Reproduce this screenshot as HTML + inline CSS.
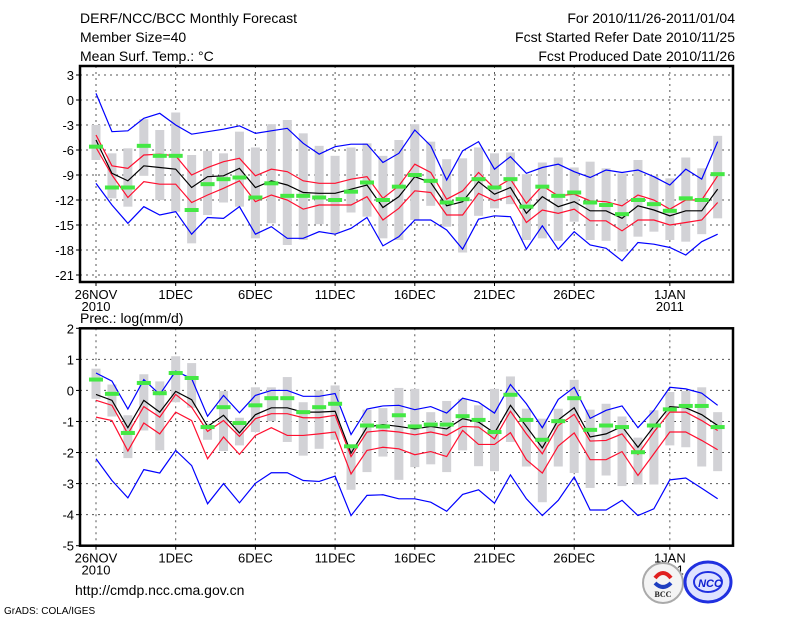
<!DOCTYPE html>
<html><head><meta charset="utf-8"><style>
body{margin:0;background:#fff;}
svg{display:block;font-family:"Liberation Sans",sans-serif;}
</style></head><body>
<svg id="chart" width="800" height="618" viewBox="0 0 800 618" xmlns="http://www.w3.org/2000/svg">
<rect width="800" height="618" fill="#fff"/>
<g font-size="14" fill="#000">
<text x="80" y="23">DERF/NCC/BCC Monthly Forecast</text>
<text x="80" y="42">Member Size=40</text>
<text x="80" y="61">Mean Surf. Temp.: °C</text>
<text x="735" y="23" text-anchor="end">For 2010/11/26-2011/01/04</text>
<text x="735" y="42" text-anchor="end">Fcst Started Refer Date 2010/11/25</text>
<text x="735" y="61" text-anchor="end">Fcst Produced Date 2010/11/26</text>
<text x="80" y="323">Prec.: log(mm/d)</text>
<text x="75" y="595">http://cmdp.ncc.cma.gov.cn</text>
<text x="4" y="614" font-size="10">GrADS: COLA/IGES</text>
</g>
<g id="top"></g>
<g id="bot"></g>
<g>
<circle cx="663" cy="583" r="20" fill="#f4f4f4" stroke="#aaa" stroke-width="2"/>
<path d="M655 578 q8 -10 16 0" stroke="#e02020" stroke-width="4" fill="none"/>
<path d="M655 583 q8 8 16 0" stroke="#2040c0" stroke-width="4" fill="none"/>
<text x="663" y="597" font-size="8" text-anchor="middle" font-family="Liberation Serif,serif" font-weight="bold" fill="#222">BCC</text>
</g>
<g>
<ellipse cx="708" cy="582" rx="23" ry="20" fill="#dfe3ff" stroke="#2030e0" stroke-width="3"/>
<ellipse cx="708" cy="582" rx="14" ry="10" fill="none" stroke="#2030e0" stroke-width="2"/>
<text x="710" y="587" font-size="11" font-weight="bold" font-style="italic" text-anchor="middle" fill="#1020d0">NCC</text>
</g>
</svg>
<script>
// ---------- Temperature data ----------
const tBlueHi=[0.8,-3.8,-3.7,-2.2,-1.6,-3,-4.1,-3.8,-3.5,-3.1,-4,-3.7,-3.4,-5.2,-6.5,-5.6,-5.3,-5.3,-7.5,-6.4,-3.6,-5.5,-9.6,-6.1,-5,-8.3,-6.8,-8.8,-8.1,-7.7,-8.6,-9.3,-8.4,-8.7,-8.4,-9.2,-10.2,-8.3,-9.5,-5];
const tBlueLo=[-10,-12.6,-14.8,-12.8,-13.8,-13.4,-16.1,-14.1,-14.2,-12.8,-16.1,-15.2,-16.6,-16.6,-15.8,-16.1,-15.4,-14.1,-17.5,-16.4,-14.4,-14.4,-15.6,-17.9,-14.3,-13.9,-14,-17.9,-15.1,-17.9,-15.8,-17.4,-17.8,-19.3,-17.1,-17.3,-17.7,-18.6,-17,-16.1];
const tRedHi=[-4.2,-7.9,-8.2,-6.6,-6.5,-6.7,-9,-8.1,-7.4,-7,-9.1,-8.3,-8.6,-9.7,-10,-10,-9.5,-9.2,-11.8,-10.3,-7.7,-8.7,-11.9,-10.9,-8.7,-10.6,-9.5,-12.4,-10.3,-11.5,-11.3,-12.1,-12.2,-12.7,-11.4,-12,-13.1,-12,-12,-9.1];
const tRedLo=[-5.7,-9,-11.7,-9.8,-10.1,-10.1,-12.3,-11.4,-10.6,-9.7,-12.2,-11.4,-12,-13.1,-12.6,-12.6,-12.6,-11.6,-14.4,-13,-10.9,-11.1,-13.8,-13.8,-11.2,-12.1,-11.5,-14.7,-13.2,-13.6,-13.1,-14.5,-14.5,-15.7,-14.4,-14.4,-15,-14.7,-14.4,-12.3];
const tMean=[-4.8,-8.8,-9.7,-7.9,-8.1,-8.3,-10.5,-9.2,-9.1,-8.2,-10.5,-9.7,-10.2,-11.1,-11.2,-11.2,-10.7,-10.2,-12.9,-11.6,-9.2,-9.9,-12.7,-12.2,-9.8,-11.3,-10.5,-13.6,-11.6,-12.8,-12.2,-13.3,-13.3,-14.2,-12.7,-13.2,-13.9,-13.3,-13.3,-10.7];
const tObs=[-5.6,-10.5,-10.5,-5.5,-6.7,-6.7,-13.2,-10.1,-9.5,-9.3,-11.7,-10,-11.5,-11.5,-11.7,-12,-11,-9.9,-12,-10.4,-9,-9.7,-12.3,-11.9,-9.5,-10.5,-9.5,-12.8,-10.4,-11.5,-11.1,-12.3,-12.6,-13.7,-12,-12.5,-13.3,-11.8,-12,-8.9];
const tMax=[-3,-6.4,-5.8,-2.3,-3.6,-1.5,-6.6,-6.1,-6.4,-3.8,-5.7,-2.9,-2.4,-4,-5.5,-6.7,-5.7,-5.2,-6.7,-4.8,-2.9,-5,-7.1,-7,-5.7,-6.4,-6.3,-8.9,-7.5,-6.9,-8.1,-7.4,-8.2,-8.8,-7.2,-9.1,-9.4,-6.9,-8.2,-4.3];
const tMin=[-7.2,-11.8,-12.8,-9.1,-12,-13.4,-17.2,-13.8,-12.3,-12.8,-16.6,-14.8,-17.4,-16.8,-14.9,-16,-13.5,-14,-16.6,-16.8,-14.4,-12.7,-15.2,-18.3,-13.9,-13,-12.5,-16.8,-16.6,-16.9,-14.6,-16.8,-16.9,-18.2,-16.4,-15.8,-16.8,-17,-16.1,-14.2];
const tTicks=[3,0,-3,-6,-9,-12,-15,-18,-21];
// ---------- Precipitation data ----------
const pBlueHi=[0.56,0.3,-0.6,0.35,-0.13,0.62,0.38,-0.83,-0.16,-0.72,-0.16,0,0,-0.19,-0.19,-0.1,-1.42,-0.6,-0.5,-0.48,-0.62,-0.52,-0.73,-0.25,-0.38,-0.73,0.19,-0.43,-1.2,-0.29,0.1,-0.9,-0.64,-0.5,-1.2,-0.64,0.1,0.05,-0.09,-0.48];
const pBlueLo=[-2.2,-2.9,-3.46,-2.55,-2.66,-1.93,-2.42,-3.65,-3,-3.62,-2.99,-2.65,-2.65,-2.9,-2.93,-2.76,-4.03,-3.38,-3.36,-3.49,-3.49,-3.6,-3.89,-3.35,-3.2,-3.63,-2.72,-3.49,-4.03,-3.54,-2.79,-3.85,-3.85,-3.54,-4.03,-3.81,-2.88,-2.82,-3.15,-3.49];
const pRedHi=[-0.32,-0.48,-1.4,-0.52,-0.86,-0.13,-0.54,-1.32,-0.97,-1.48,-0.91,-0.75,-0.75,-0.88,-0.88,-0.8,-2.13,-1.34,-1.29,-1.34,-1.43,-1.34,-1.45,-1.16,-1.18,-1.56,-0.67,-1.4,-2.04,-1.13,-0.77,-1.63,-1.61,-1.4,-2.06,-1.34,-0.7,-0.7,-0.97,-1.29];
const pRedLo=[-0.86,-0.97,-1.95,-1.05,-1.4,-0.7,-0.97,-2.2,-1.5,-2.06,-1.45,-1.2,-1.45,-1.45,-1.4,-1.34,-2.69,-1.93,-1.83,-1.88,-2.07,-1.97,-2.13,-1.29,-1.74,-1.74,-1.36,-2.23,-2.66,-1.79,-1.37,-2.23,-2.23,-1.97,-2.74,-2.04,-1.34,-1.34,-1.61,-1.91];
const pMean=[-0.13,-0.32,-1.2,-0.32,-0.7,-0.03,-0.3,-1.16,-0.8,-1.37,-0.78,-0.56,-0.56,-0.7,-0.7,-0.67,-2.02,-1.18,-1.1,-1.16,-1.24,-1.16,-1.24,-0.91,-1.02,-1.37,-0.48,-1.16,-1.85,-0.95,-0.56,-1.5,-1.4,-1.16,-1.83,-1.16,-0.52,-0.56,-0.78,-1.13];
const pObs=[0.35,-0.11,-1.37,0.24,-0.09,0.56,0.4,-1.18,-0.54,-1.05,-0.48,-0.25,-0.25,-0.7,-0.54,-0.43,-1.8,-1.13,-1.16,-0.8,-1.16,-1.1,-1.1,-0.83,-0.95,-1.34,-0.14,-0.95,-1.59,-0.99,-0.25,-1.27,-1.13,-1.18,-1.99,-1.13,-0.61,-0.5,-0.5,-1.18];
const pMax=[0.7,0.19,-0.8,0.52,0.29,1.1,0.88,-1.07,-0.02,-0.88,0.1,0.1,0.43,-0.38,0,0.16,-1.74,-0.62,-0.57,0.08,0.05,-0.7,-0.34,-0.27,-0.48,0.05,0.45,-0.59,-0.91,-0.59,0.34,-0.62,-0.43,-0.84,-1.52,-0.64,-0.05,-0.02,0.1,-0.7];
const pMin=[-0.27,-0.84,-2.18,-1.29,-1.93,-0.38,-0.56,-1.59,-1.95,-1.77,-1.34,-0.99,-1.66,-2.1,-1.88,-1.59,-3.2,-2.63,-2.13,-2.88,-2.47,-2.38,-2.63,-1.93,-2.44,-2.6,-1.66,-2.45,-3.6,-2.45,-2.66,-3.14,-2.74,-3.08,-3.03,-3.03,-1.77,-1.83,-2.45,-2.6];
const pTicks=[2,1,0,-1,-2,-3,-4,-5];
const xTickDays=[0,5,10,15,20,25,30,36];
const xTickLabels=["26NOV","1DEC","6DEC","11DEC","16DEC","21DEC","26DEC","1JAN"];
const xYearLabels=["2010","","","","","","","2011"];

const NS="http://www.w3.org/2000/svg";
function mk(parent,tag,attrs){const e=document.createElementNS(NS,tag);for(const k in attrs)e.setAttribute(k,attrs[k]);parent.appendChild(e);return e;}
const xOf=d=>96+15.94*d;

function panel(g,top,bottom,vTop,vBot,ticks,blueHi,blueLo,redHi,redLo,mean,obs,mx,mn,prefix){
  const yOf=v=>top+(vTop-v)/(vTop-vBot)*(bottom-top);
  const L=80,R=733,boxTop=top-(prefix==='t'?9:0),boxBot=bottom+(prefix==='t'?7:0);
  // grid
  ticks.forEach(t=>{
    const y=yOf(t);
    const ln=mk(g,'line',{x1:L,x2:R,y1:y,y2:y,stroke:'#555','stroke-width':1,'stroke-dasharray':'2,4'});
    
    
    const tk=mk(g,'line',{x1:L-4,x2:L,y1:y,y2:y,stroke:'#000'});
    
    
    const tx=mk(g,'text',{x:L-6,y:y+5,'text-anchor':'end','font-size':13});
    tx.textContent=t;
    
    
  });
  xTickDays.forEach((d,i)=>{
    const x=xOf(d);
    const ln=mk(g,'line',{x1:x,x2:x,y1:boxTop,y2:boxBot,stroke:'#555','stroke-dasharray':'2,4'});
    
    
    const tk=mk(g,'line',{x1:x,x2:x,y1:boxBot,y2:boxBot+4,stroke:'#000'});
    
    
    const tx=mk(g,'text',{x:x,y:boxBot+17,'text-anchor':'middle','font-size':13});
    tx.textContent=xTickLabels[i];
    
    
    if(xYearLabels[i]){
      const ty=mk(g,'text',{x:x,y:boxBot+29,'text-anchor':'middle','font-size':13});
      ty.textContent=xYearLabels[i];
      
      
    }
  });
  // range bars
  mx.forEach((v,d)=>{
    const y1=yOf(v),y2=yOf(mn[d]);
    const r=mk(g,'rect',{x:xOf(d)-4.5,y:y1,width:9,height:y2-y1,fill:'#d2d2d6'});
    
    
  });
  const line=(arr,col,name)=>{
    const p=mk(g,'polyline',{points:arr.map((v,d)=>xOf(d)+','+yOf(v)).join(' '),fill:'none',stroke:col,'stroke-width':1.2});
    
    
  };
  line(blueHi,'#0000ff','upper-extreme-line');
  line(blueLo,'#0000ff','lower-extreme-line');
  line(redHi,'#ff1030','upper-spread-line');
  line(redLo,'#ff1030','lower-spread-line');
  line(mean,'#000','ensemble-mean-line');
  obs.forEach((v,d)=>{
    const r=mk(g,'rect',{x:xOf(d)-7,y:yOf(v)-2,width:14,height:4,fill:'#44e844'});
    
    
  });
  const b=mk(g,'rect',{x:L,y:boxTop,width:R-L,height:boxBot-boxTop,fill:'none',stroke:'#000','stroke-width':2.5});
  
  
}
panel(document.getElementById('top'),75,275,3,-21,tTicks,tBlueHi,tBlueLo,tRedHi,tRedLo,tMean,tObs,tMax,tMin,'t');
panel(document.getElementById('bot'),328.3,545.7,2,-5,pTicks,pBlueHi,pBlueLo,pRedHi,pRedLo,pMean,pObs,pMax,pMin,'p');
</script>
</body></html>
